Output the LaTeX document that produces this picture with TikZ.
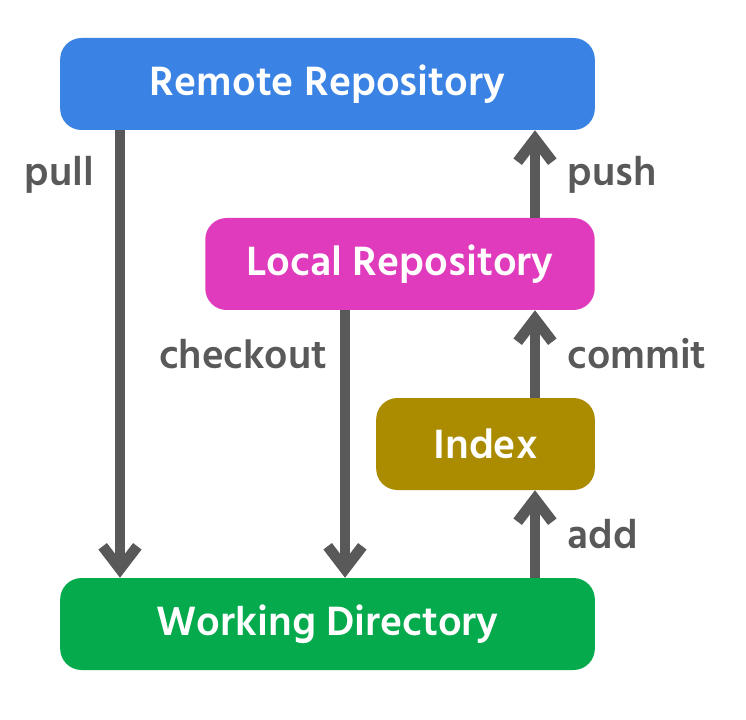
\documentclass[tikz,border=0pt]{standalone}
\usepackage{fontspec}
\setmainfont{Hind Siliguri}
\usetikzlibrary{arrows.meta}
\definecolor{remoteblue}{HTML}{3A82E3}
\definecolor{localpink}{HTML}{E03ABD}
\definecolor{indexgold}{HTML}{AB8C00}
\definecolor{workgreen}{HTML}{04AA4C}
\definecolor{arrowgray}{HTML}{595959}
\tikzset{
  repo/.style={rounded corners=16pt, inner sep=0pt, minimum height=69pt,
    text=white, font=\fontsize{31.5}{33}\selectfont\bfseries},
  flow/.style={draw=arrowgray, line width=8pt,
    -{Straight Barb[length=17pt, width=26pt, line width=8pt]}},
  cmd/.style={text=arrowgray, font=\fontsize{31}{33}\selectfont\bfseries}
}
\begin{document}
\begin{tikzpicture}[x=0.75pt, y=-0.75pt]
		\useasboundingbox (0,0) rectangle (746,720);
		\node [repo, fill=remoteblue, minimum width=401pt] (remote) at (327.5, 84) {Remote Repository};
		\node [repo, fill=localpink, minimum width=292pt] (local) at (400, 264) {Local Repository};
		\node [repo, fill=indexgold, minimum width=164pt] (index) at (485.5, 444) {Index};
		\node [repo, fill=workgreen, minimum width=401pt] (work) at (327.5, 624) {Working Directory};
		\coordinate (pullx) at (120, 0);
		\coordinate (checkx) at (345, 0);
		\coordinate (upx) at (535, 0);
		\draw [flow] (remote.south -| pullx) -- (work.north -| pullx);
		\draw [flow] (local.south -| checkx) -- (work.north -| checkx);
		\draw [flow] (work.north -| upx) -- (index.south -| upx);
		\draw [flow] (index.north -| upx) -- (local.south -| upx);
		\draw [flow] (local.north -| upx) -- (remote.south -| upx);
		\node [cmd, left] (pull) at (99, 175) {pull};
		\node [cmd, right] (push) at (563, 175) {push};
		\node [cmd, left] (checkout) at (332, 354) {checkout};
		\node [cmd, right] (commit) at (563, 354) {commit};
		\node [cmd, right] (add) at (563, 534) {add};
\end{tikzpicture}
\end{document}
